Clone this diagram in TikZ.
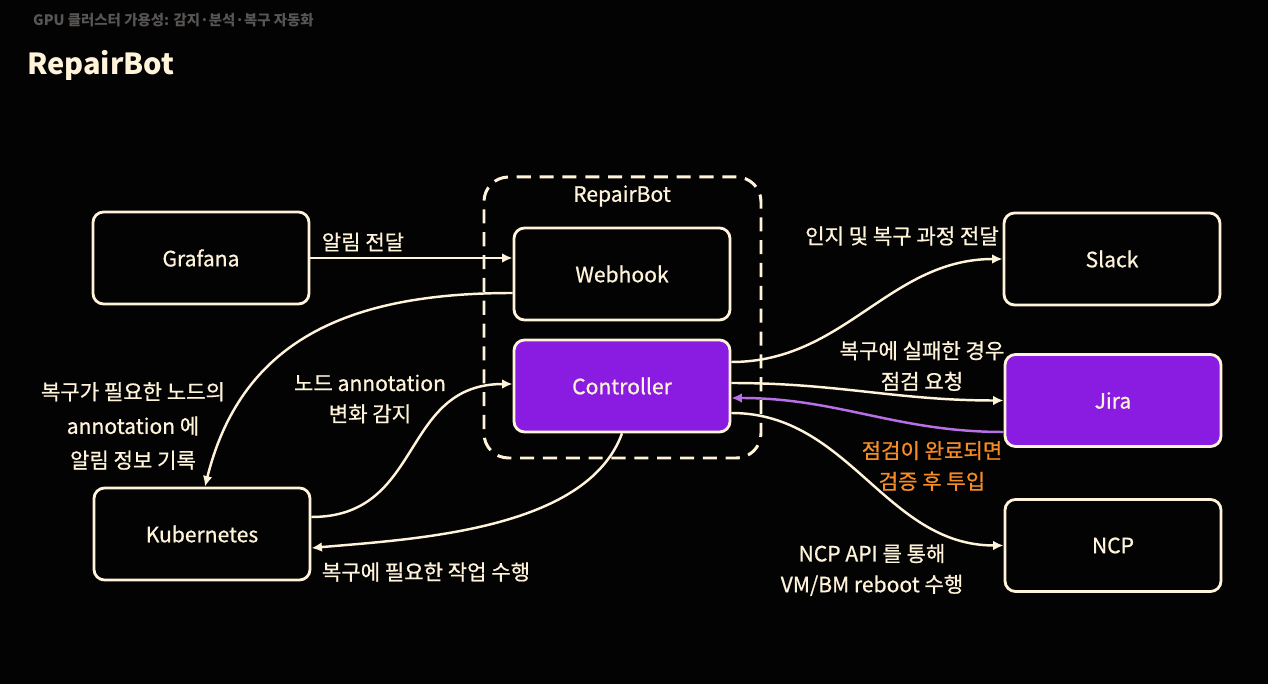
\documentclass[tikz,border=0pt]{standalone}
\usepackage{fontspec}
\setmainfont{Noto Sans CJK KR}
\newfontfamily\medfont[FakeBold=0.7]{Noto Sans CJK KR}
\usetikzlibrary{calc}
\usetikzlibrary{shapes,arrows.meta}

\definecolor{bgblack}{RGB}{4,3,3}
\definecolor{cream}{RGB}{255,244,218}
\definecolor{titlegray}{RGB}{88,86,84}
\definecolor{ctrlpurple}{RGB}{138,28,226}
\definecolor{backpurple}{RGB}{184,112,232}
\definecolor{hintorange}{RGB}{246,140,38}

\begin{document}
\begin{tikzpicture}[
  box/.style={draw=cream, line width=1.6pt, rounded corners=6pt, minimum width=4.32cm, minimum height=1.84cm, text=cream, font=\medfont\fontsize{12}{14}\selectfont},
  hot/.style={box, fill=ctrlpurple},
  conn/.style={draw=cream, line width=1.4pt, -{Latex[length=6pt,width=5.5pt]}},
  lbl/.style={text=cream, align=center, font=\medfont\fontsize{12}{17.5}\selectfont}
]
% background
\fill[bgblack] (0,0) rectangle (25.36,13.68);
\useasboundingbox (0,0) rectangle (25.36,13.68);

% titles
\node[anchor=west, text=titlegray, font=\bfseries\fontsize{8.2}{10}\selectfont] (subtitle) at (0.54,13.28) {GPU 클러스터 가용성: 감지·분석·복구 자동화};
\node[anchor=west, text=cream, font=\bfseries\fontsize{16.5}{20}\selectfont] (title) at (0.42,12.38) {RepairBot};

% RepairBot group
\node[draw=cream, line width=1.7pt, dash pattern=on 8pt off 5pt, rounded corners=14pt, minimum width=5.54cm, minimum height=5.62cm] (group) at (12.45,7.33) {};
\node[lbl, font=\medfont\fontsize{12}{14}\selectfont] (grouplabel) at (12.44,9.76) {RepairBot};

% systems
\node[box] (grafana) at (4.02,8.52) {Grafana};
\node[box] (webhook) at (12.44,8.20) {Webhook};
\node[hot] (controller) at (12.44,5.96) {Controller};
\node[box] (kube) at (4.04,3.00) {Kubernetes};
\node[box] (slack) at (22.24,8.50) {Slack};
\node[hot] (jira) at (22.26,5.67) {Jira};
\node[box] (ncp) at (22.26,2.77) {NCP};

% alert in, annotation, watch, action
\draw[conn] (grafana.east) -- (grafana.east -| webhook.west);
\draw[conn] ([yshift=-0.38cm]webhook.west) to[out=180,in=76,looseness=1.1] ([xshift=0.06cm]kube.north);
\draw[conn] ([yshift=0.34cm]kube.east) to[out=0,in=180,looseness=1.2] ([yshift=0.04cm]controller.west);
\draw[conn] (controller.south) to[out=-110,in=5,looseness=0.8] ([yshift=-0.28cm]kube.east);

% outgoing to slack, jira, ncp
\draw[conn] ([yshift=0.48cm]controller.east) to[out=0,in=180] (slack.west);
\draw[conn] ([yshift=0.06cm]controller.east) to[out=0,in=180] (jira.west);
\draw[conn, draw=backpurple] ([yshift=-0.63cm]jira.west) to[out=180,in=0] ([yshift=-0.24cm]controller.east);
\draw[conn] ([yshift=-0.54cm]controller.east) to[out=0,in=180] (ncp.west);

% labels
\node[lbl] (alertlbl) at (7.26,8.84) {알림 전달};
\node[lbl, font=\medfont\fontsize{12}{19.5}\selectfont] (notelbl) at (2.66,5.16) {복구가 필요한 노드의\\annotation 에\\알림 정보 기록};
\node[lbl] (watchlbl) at (7.40,5.70) {노드 annotation\\변화 감지};
\node[lbl] (actlbl) at (8.52,2.24) {복구에 필요한 작업 수행};
\node[lbl] (slacklbl) at (18.04,8.96) {인지 및 복구 과정 전달};
\node[lbl] (jiralbl) at (18.44,6.36) {복구에 실패한 경우\\점검 요청};
\node[lbl, text=hintorange] (backlbl) at (18.64,4.36) {점검이 완료되면\\검증 후 투입};
\node[lbl] (ncplbl) at (17.44,2.28) {NCP API 를 통해\\VM/BM reboot 수행};
\end{tikzpicture}
\end{document}
